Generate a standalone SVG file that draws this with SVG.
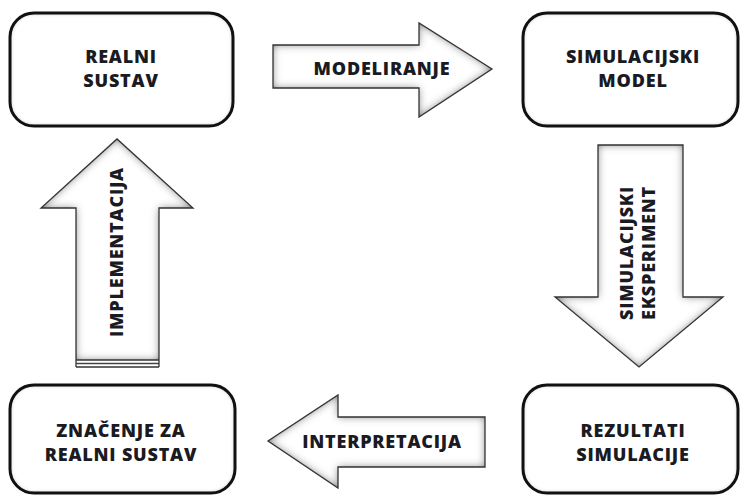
<svg xmlns="http://www.w3.org/2000/svg" width="741" height="497" viewBox="0 0 741 497">
<style>
  .box{fill:#fff;filter:url(#innerBox)}
  .boxline{fill:none;stroke:#111;stroke-width:3}
  .arr{fill:#fff;filter:url(#innerArr)}
  .arrline{fill:none;stroke:#333;stroke-width:1.3;stroke-linejoin:miter}
  .t{font-family:"Open Sans","Liberation Sans",sans-serif;font-weight:800;font-size:18px;fill:#1a1a22;text-anchor:middle;letter-spacing:0.8px}
</style>
<defs>
  <filter id="innerArr" x="-10%" y="-10%" width="120%" height="120%">
    <feFlood flood-color="#505050" result="f"/>
    <feComposite in="f" in2="SourceAlpha" operator="out" result="o"/>
    <feGaussianBlur in="o" stdDeviation="4" result="b"/>
    <feComposite in="b" in2="SourceAlpha" operator="in" result="s"/>
    <feMerge><feMergeNode in="SourceGraphic"/><feMergeNode in="s"/></feMerge>
  </filter>
  <filter id="innerBox" x="-10%" y="-10%" width="120%" height="120%">
    <feFlood flood-color="#8a8a8a" result="f"/>
    <feComposite in="f" in2="SourceAlpha" operator="out" result="o"/>
    <feGaussianBlur in="o" stdDeviation="2" result="b"/>
    <feComposite in="b" in2="SourceAlpha" operator="in" result="s"/>
    <feMerge><feMergeNode in="SourceGraphic"/><feMergeNode in="s"/></feMerge>
  </filter>
</defs>

<g id="connectors">
  <g id="modeliranje">
    <polygon class="arr" points="273,45 419,45 419,23 492,69 419,117 419,88 273,88"/>
    <polygon class="arrline" points="273,45 419,45 419,23 492,69 419,117 419,88 273,88"/>
    <text class="t" x="382" y="75">MODELIRANJE</text>
  </g>
  <g id="simulacijski-eksperiment">
    <polygon class="arr" points="598,145 683,145 683,297 723,297 639,367 555,297 598,297"/>
    <polygon class="arrline" points="598,145 683,145 683,297 723,297 639,367 555,297 598,297"/>
    <g transform="translate(640,253) rotate(-90)">
      <text class="t" x="0" y="-7">SIMULACIJSKI</text>
      <text class="t" x="0" y="15">EKSPERIMENT</text>
    </g>
  </g>
  <g id="interpretacija">
    <polygon class="arr" points="485,417 338,417 338,395 268,441 338,488 338,467 485,467"/>
    <polygon class="arrline" points="485,417 338,417 338,395 268,441 338,488 338,467 485,467"/>
    <text class="t" x="382" y="448">INTERPRETACIJA</text>
  </g>
  <g id="implementacija">
    <polygon class="arr" points="76,360 76,208 41,208 117,139 193,208 159,208 159,360"/>
    <polyline class="arrline" points="76,360 76,208 41,208 117,139 193,208 159,208 159,360"/>
    <line x1="76" y1="360" x2="159" y2="360" stroke="#333" stroke-width="1.3"/>
    <line x1="76" y1="363.5" x2="159" y2="363.5" stroke="#444" stroke-width="1.3"/>
    <line x1="76" y1="367" x2="159" y2="367" stroke="#333" stroke-width="1.3"/>
    <line x1="76" y1="360" x2="76" y2="367" stroke="#333" stroke-width="1.3"/>
    <line x1="159" y1="360" x2="159" y2="367" stroke="#333" stroke-width="1.3"/>
    <text class="t" transform="translate(123,252) rotate(-90)" x="0" y="0">IMPLEMENTACIJA</text>
  </g>
</g>

<g id="realni-sustav">
  <rect class="box" x="10" y="13" width="223" height="113" rx="24"/>
  <rect class="boxline" x="10" y="13" width="223" height="113" rx="24"/>
  <text class="t" x="121" y="63">REALNI</text>
  <text class="t" x="121" y="87">SUSTAV</text>
</g>
<g id="simulacijski-model">
  <rect class="box" x="523" y="13" width="215" height="113" rx="24"/>
  <rect class="boxline" x="523" y="13" width="215" height="113" rx="24"/>
  <text class="t" x="633" y="63">SIMULACIJSKI</text>
  <text class="t" x="633" y="87">MODEL</text>
</g>
<g id="rezultati-simulacije">
  <rect class="box" x="523" y="385" width="215" height="108" rx="24"/>
  <rect class="boxline" x="523" y="385" width="215" height="108" rx="24"/>
  <text class="t" x="633" y="437">REZULTATI</text>
  <text class="t" x="633" y="461">SIMULACIJE</text>
</g>
<g id="znacenje">
  <rect class="box" x="10" y="385" width="225" height="108" rx="24"/>
  <rect class="boxline" x="10" y="385" width="225" height="108" rx="24"/>
  <text class="t" x="121" y="437">ZNAČENJE ZA</text>
  <text class="t" x="121" y="461">REALNI SUSTAV</text>
</g>
</svg>
